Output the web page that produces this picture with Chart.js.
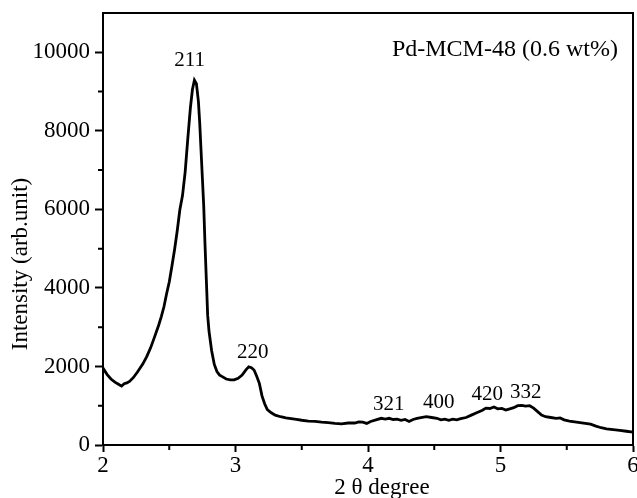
<!DOCTYPE html>
<html>
<head>
<meta charset="utf-8">
<script src="https://cdn.jsdelivr.net/npm/chart.js@4.4.1/dist/chart.umd.min.js"></script>
<style>
  html, body { margin: 0; padding: 0; background: #fff; }
  #wrap { width: 637px; height: 498px; position: relative; }
</style>
</head>
<body>
<div id="wrap"><canvas id="xrd"></canvas></div>
<script>
// XRD pattern
const twoTheta = [2.00, 2.03, 2.06, 2.09, 2.12, 2.14, 2.16, 2.18, 2.20, 2.23, 2.26, 2.28, 2.30, 2.33, 2.36, 2.39, 2.42, 2.44, 2.46, 2.48,
    2.50, 2.52, 2.54, 2.56, 2.58, 2.60, 2.62, 2.64, 2.66, 2.675, 2.69, 2.705, 2.72, 2.73, 2.74, 2.75, 2.76, 2.77, 2.78, 2.79,
    2.80, 2.82, 2.84, 2.86, 2.88, 2.90, 2.93, 2.96, 2.99, 3.02, 3.05, 3.08, 3.10, 3.12, 3.14, 3.16, 3.18, 3.20, 3.22, 3.24,
    3.27, 3.30, 3.34, 3.38, 3.42, 3.46, 3.50, 3.55, 3.60, 3.65, 3.70, 3.75, 3.80, 3.85, 3.90, 3.93, 3.96, 3.99, 4.02, 4.06,
    4.10, 4.13, 4.16, 4.19, 4.22, 4.25, 4.28, 4.31, 4.34, 4.37, 4.40, 4.44, 4.48, 4.52, 4.55, 4.58, 4.61, 4.64, 4.67, 4.70,
    4.74, 4.78, 4.82, 4.86, 4.89, 4.92, 4.95, 4.98, 5.01, 5.04, 5.07, 5.10, 5.13, 5.16, 5.19, 5.22, 5.25, 5.28, 5.31, 5.34,
    5.38, 5.42, 5.45, 5.48, 5.52, 5.56, 5.60, 5.64, 5.68, 5.72, 5.76, 5.80, 5.85, 5.90, 5.95, 6.00];
const intensity = [1960, 1800, 1680, 1600, 1540, 1500, 1560, 1580, 1620, 1720, 1860, 1960, 2060, 2250, 2480, 2760, 3050, 3270, 3520, 3850,
    4150, 4550, 4970, 5450, 5990, 6350, 6950, 7800, 8600, 9050, 9290, 9200, 8750, 8200, 7500, 6800, 6100, 5100, 4200, 3300,
    2900, 2400, 2050, 1870, 1780, 1740, 1680, 1660, 1660, 1700, 1780, 1920, 1990, 1970, 1910, 1750, 1570, 1250, 1050, 900,
    820, 760, 720, 690, 670, 650, 630, 610, 600, 580, 570, 550, 540, 560, 560, 590, 580, 550, 600, 640,
    680, 660, 680, 650, 660, 630, 650, 600, 650, 680, 700, 720, 700, 680, 640, 660, 630, 660, 640, 670,
    700, 760, 820, 880, 940, 930, 970, 920, 930, 890, 920, 950, 1000, 1010, 990, 1000, 940, 850, 760, 720,
    700, 680, 690, 640, 610, 590, 570, 550, 530, 480, 440, 410, 390, 370, 350, 330];

// axis ticks
const xTicks = [2, 3, 4, 5, 6];
const xMinorTicks = [2.5, 3.5, 4.5, 5.5];
const yTicks = [0, 2000, 4000, 6000, 8000, 10000];
const yMinorTicks = [1000, 3000, 5000, 7000, 9000];

// reflection labels
const peakLabels = ['211', '220', '321', '400', '420', '332'];
const peakX = [2.653, 3.13, 4.156, 4.534, 4.90, 5.19];
const peakY = [9800, 2355, 1030, 1080, 1275, 1337];

const sampleName = 'Pd-MCM-48 (0.6 wt%)';
const xTitle = '2 θ degree';
const yTitle = 'Intensity (arb.unit)';

const serif = 'Liberation Serif';

// minor ticks, frame and texts
const decor = {
    id: 'decor',
    afterDraw(chart) {
        const ctx = chart.ctx;
        const area = chart.chartArea;
        const xs = chart.scales.x;
        const ys = chart.scales.y;
        ctx.save();
        ctx.strokeStyle = '#000';
        ctx.lineWidth = 2;
        ctx.strokeRect(area.left, area.top, area.right - area.left, area.bottom - area.top);

        ctx.beginPath();
        xMinorTicks.forEach(v => {
            const px = xs.getPixelForValue(v);
            ctx.moveTo(px, area.bottom);
            ctx.lineTo(px, area.bottom + 5);
        });
        yMinorTicks.forEach(v => {
            const py = ys.getPixelForValue(v);
            ctx.moveTo(area.left, py);
            ctx.lineTo(area.left - 5, py);
        });
        ctx.stroke();

        ctx.fillStyle = '#000';
        ctx.textAlign = 'center';
        ctx.textBaseline = 'middle';
        ctx.font = '21px "' + serif + '"';
        peakLabels.forEach((lab, i) => {
            ctx.fillText(lab, xs.getPixelForValue(peakX[i]), ys.getPixelForValue(peakY[i]));
        });

        ctx.font = '24px "' + serif + '"';
        ctx.textAlign = 'right';
        ctx.fillText(sampleName, xs.getPixelForValue(5.886), ys.getPixelForValue(10060));

        ctx.font = '23px "' + serif + '"';
        ctx.textAlign = 'center';
        ctx.fillText(xTitle, 382, 488);

        ctx.translate(21, 264);
        ctx.rotate(-Math.PI / 2);
        ctx.fillText(yTitle, 0, 0);
        ctx.restore();
    }
};

new Chart(document.getElementById('xrd').getContext('2d'), {
    type: 'line',
    data: {
        datasets: [{
            data: twoTheta.map((t, i) => ({ x: t, y: intensity[i] })),
            borderColor: '#000',
            borderWidth: 2.8,
            pointRadius: 0,
            tension: 0,
            fill: false
        }]
    },
    options: {
        responsive: true,
        maintainAspectRatio: false,
        animation: false,
        layout: { padding: { top: 13, right: 4, left: 0, bottom: 0 } },
        plugins: {
            legend: { display: false },
            tooltip: { enabled: false }
        },
        scales: {
            x: {
                type: 'linear',
                min: 2,
                max: 6,
                afterBuildTicks: (s) => { s.ticks = xTicks.map(v => ({ value: v })); },
                afterFit: (s) => { s.height = 53; s.paddingLeft = 0; s.paddingRight = 0; },
                border: { display: true, color: '#000', width: 2 },
                grid: { drawOnChartArea: false, drawTicks: true, tickLength: 7, tickWidth: 2, tickColor: '#000' },
                ticks: {
                    color: '#000',
                    padding: 0,
                    maxRotation: 0,
                    autoSkip: false,
                    callback: (v) => String(v),
                    font: { family: serif, size: 23 }
                }
            },
            y: {
                min: 0,
                max: 11000,
                afterBuildTicks: (s) => { s.ticks = yTicks.map(v => ({ value: v })); },
                afterFit: (s) => { s.width = 103; s.paddingTop = 0; s.paddingBottom = 0; },
                border: { display: true, color: '#000', width: 2 },
                grid: { drawOnChartArea: false, drawTicks: true, tickLength: 8, tickWidth: 2, tickColor: '#000' },
                ticks: {
                    color: '#000',
                    padding: 5,
                    autoSkip: false,
                    callback: (v) => String(v),
                    font: { family: serif, size: 23 }
                }
            }
        }
    },
    plugins: [decor]
});
</script>
</body>
</html>
